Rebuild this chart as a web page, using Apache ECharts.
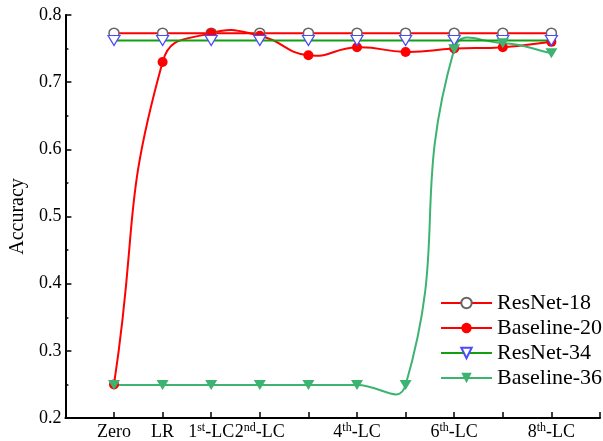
<!DOCTYPE html>
<html>
<head>
<meta charset="utf-8">
<script src="https://cdn.jsdelivr.net/npm/echarts@6/dist/echarts.min.js"></script>
<style>
  html, body { margin: 0; padding: 0; background: #fff; }
  #chart { width: 603px; height: 441px; }
</style>
</head>
<body>
<div id="chart"></div>
<script>
// Training stages along the x axis
const categories = ['Zero', 'LR', '1st-LC', '2nd-LC', '3rd-LC', '4th-LC', '5th-LC', '6th-LC', '7th-LC', '8th-LC'];
// Which stage names are printed under the axis (empty = tick only)
const tickLabels = ['Zero', 'LR', '1st-LC', '2nd-LC', '', '4th-LC', '', '6th-LC', '', '8th-LC'];
const yTicks = [0.2, 0.3, 0.4, 0.5, 0.6, 0.7, 0.8];

// Accuracy per stage
const resnet18   = [0.773, 0.773, 0.773, 0.773, 0.773, 0.773, 0.773, 0.773, 0.773, 0.773];
const baseline20 = [0.250, 0.730, 0.773, 0.769, 0.740, 0.752, 0.745, 0.750, 0.752, 0.760];
const resnet34   = [0.762, 0.762, 0.762, 0.762, 0.762, 0.762, 0.762, 0.762, 0.762, 0.762];
const baseline36 = [0.249, 0.249, 0.249, 0.249, 0.249, 0.249, 0.249, 0.749, 0.758, 0.743];

const serif = '"Liberation Serif", "Times New Roman", serif';
const RED = '#ff0000';
const GREEN = '#10a010';
const SEA = '#3cb371';
const pairs = vals => vals.map((v, i) => [i, v]);

// Split labels such as "1st-LC" into number, superscript suffix and rest
function richLabel(text) {
  const m = /^(\d+)(st|nd|rd|th)(.*)$/.exec(text);
  if (!m) return '{b|' + text + '}';
  return '{b|' + m[1] + '}{s|' + m[2] + '}{b|' + m[3] + '}';
}

// Free (unclamped) cardinal-style spline: one cubic Bezier piece per data interval,
// control points follow the neighbour chord weighted by segment lengths.
function splineSeries(name, vals, color, tension) {
  const n = vals.length;
  return {
    name: name,
    type: 'custom',
    silent: true,
    data: vals.map((v, i) => [i, v]),
    renderItem: function (params, api) {
      const i = params.dataIndex;
      if (i >= n - 1) return null;
      const P = k => {
        const c = Math.min(Math.max(k, 0), n - 1);
        return api.coord([c, vals[c]]);
      };
      const dist = (a, b) => Math.hypot(a[0] - b[0], a[1] - b[1]);
      const ctrl = (k) => {
        const p = P(k), prev = P(k - 1), next = P(k + 1);
        const vx = next[0] - prev[0], vy = next[1] - prev[1];
        const dPrev = dist(p, prev), dNext = dist(p, next);
        const r = (dPrev + dNext) > 0 ? dNext / (dPrev + dNext) : 0.5;
        return {
          before: [p[0] - vx * tension * (1 - r), p[1] - vy * tension * (1 - r)],
          after: [p[0] + vx * tension * r, p[1] + vy * tension * r]
        };
      };
      const a = P(i), b = P(i + 1);
      const c1 = ctrl(i).after, c2 = ctrl(i + 1).before;
      return {
        type: 'bezierCurve',
        shape: { x1: a[0], y1: a[1], x2: b[0], y2: b[1], cpx1: c1[0], cpy1: c1[1], cpx2: c2[0], cpy2: c2[1] },
        style: { stroke: color, lineWidth: 2, fill: null, lineCap: 'round' }
      };
    },
    z: 2
  };
}

const chart = echarts.init(document.getElementById('chart'), null, { renderer: 'canvas' });

chart.setOption({
  animation: false,
  backgroundColor: '#fff',
  grid: { left: 64, top: 15, bottom: 22, width: 541, containLabel: false },
  legend: {
    orient: 'vertical',
    left: 435,
    top: 287,
    itemWidth: 51,
    itemHeight: 13,
    itemGap: 3,
    textStyle: { fontFamily: serif, fontSize: 22, color: '#000' },
    data: [
      { name: 'ResNet-18' },
      { name: 'Baseline-20', lineStyle: { color: RED, width: 2, opacity: 1 } },
      { name: 'ResNet-34' },
      { name: 'Baseline-36', lineStyle: { color: SEA, width: 2, opacity: 1 } }
    ]
  },
  xAxis: {
    type: 'value',
    min: -1,
    max: 10,
    interval: 1,
    splitLine: { show: false },
    axisLine: { onZero: false, lineStyle: { color: '#000', width: 2 } },
    axisTick: { inside: true, length: 6, lineStyle: { color: '#000', width: 1.5 } },
    axisLabel: {
      margin: 4,
      showMinLabel: true,
      showMaxLabel: true,
      formatter: v => {
        const t = tickLabels[v];
        return t ? richLabel(t) : '';
      },
      rich: {
        b: { fontFamily: serif, fontSize: 18, color: '#000', lineHeight: 20 },
        s: { fontFamily: serif, fontSize: 12, color: '#000', verticalAlign: 'top', lineHeight: 12 }
      }
    }
  },
  yAxis: {
    type: 'value',
    min: yTicks[0],
    max: yTicks[yTicks.length - 1],
    interval: 0.1,
    name: 'Accuracy',
    nameLocation: 'middle',
    nameGap: 30,
    nameTextStyle: { fontFamily: serif, fontSize: 20, color: '#000' },
    splitLine: { show: false },
    axisLine: { show: true, onZero: false, lineStyle: { color: '#000', width: 2 } },
    axisTick: { inside: true, length: 6, lineStyle: { color: '#000', width: 1.5 } },
    minorTick: { show: true, splitNumber: 2, length: 3, lineStyle: { color: '#000', width: 1.5 } },
    axisLabel: {
      margin: 4,
      fontFamily: serif,
      fontSize: 18,
      color: '#000',
      formatter: v => v.toFixed(1)
    }
  },
  series: [
    {
      name: 'ResNet-18',
      type: 'line',
      data: pairs(resnet18),
      symbol: 'circle',
      symbolSize: 10,
      lineStyle: { color: RED, width: 2 },
      itemStyle: { color: '#ffffff', borderColor: '#666666', borderWidth: 1.5 }
    },
    splineSeries('Baseline-20 spline', baseline20, RED, 0.5),
    {
      name: 'Baseline-20',
      type: 'line',
      data: pairs(baseline20),
      symbol: 'circle',
      symbolSize: 10,
      lineStyle: { color: RED, width: 2, opacity: 0 },
      itemStyle: { color: RED, borderColor: RED, borderWidth: 0 }
    },
    {
      name: 'ResNet-34',
      type: 'line',
      data: pairs(resnet34),
      symbol: 'triangle',
      symbolRotate: 180,
      symbolSize: [12, 10],
      lineStyle: { color: GREEN, width: 2 },
      itemStyle: { color: '#ffffff', borderColor: '#4a4aff', borderWidth: 1.2 }
    },
    splineSeries('Baseline-36 spline', baseline36, SEA, 0.5),
    {
      name: 'Baseline-36',
      type: 'line',
      data: pairs(baseline36),
      symbol: 'triangle',
      symbolRotate: 180,
      symbolSize: [12, 10],
      lineStyle: { color: SEA, width: 2, opacity: 0 },
      itemStyle: { color: SEA, borderWidth: 0 }
    }
  ]
});
</script>
</body>
</html>
